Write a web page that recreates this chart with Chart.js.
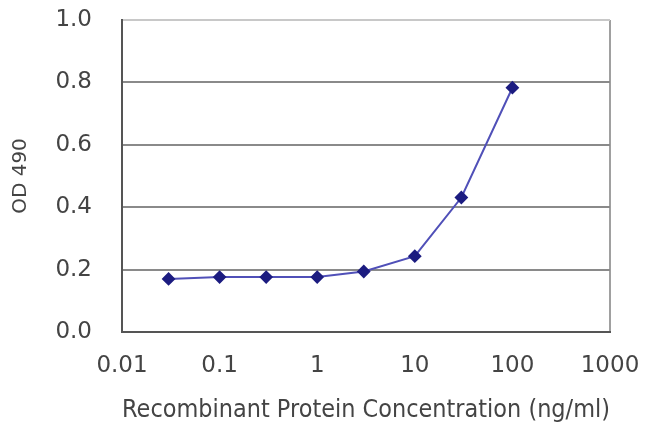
<!DOCTYPE html>
<html>
<head>
<meta charset="utf-8">
<script src="https://cdn.jsdelivr.net/npm/chart.js@4"></script>
<style>
  body { margin: 0; background: #fff; }
  #chart { display: block; }
</style>
</head>
<body>
<canvas id="chart" width="650" height="433"></canvas>
<script>
// concentrations (ng/ml) and OD 490 readings
const concentrations = [0.03, 0.1, 0.3, 1, 3, 10, 30, 100];
const odValues = [0.17, 0.176, 0.176, 0.176, 0.194, 0.243, 0.431, 0.783];
const xTicks = [0.01, 0.1, 1, 10, 100, 1000];
const yTicks = [0, 0.2, 0.4, 0.6, 0.8, 1.0];

const points = concentrations.map((c, i) => ({ x: c, y: odValues[i] }));

const textColor = '#444';
const font = { family: 'DejaVu Sans', size: 23 };

new Chart(document.getElementById('chart'), {
    type: 'line',
    data: {
        datasets: [{
            data: points,
            borderColor: '#5050b8',
            borderWidth: 2,
            pointStyle: 'rectRot',
            pointRadius: 5.5,
            pointBackgroundColor: '#1c1c80',
            pointBorderColor: '#1c1c80',
            tension: 0
        }]
    },
    options: {
        responsive: false,
        animation: false,
        layout: { padding: { top: 20, right: 40, left: 0, bottom: 0 } },
        plugins: {
            legend: { display: false },
            tooltip: { enabled: false }
        },
        scales: {
            x: {
                type: 'logarithmic',
                min: 0.01,
                max: 1000,
                afterBuildTicks: scale => {
                    scale.ticks = xTicks.map(v => ({ value: v }));
                },
                afterFit: scale => { scale.height = 101; },
                ticks: {
                    color: textColor,
                    font: font,
                    padding: 0,
                    maxRotation: 0,
                    autoSkip: false,
                    callback: v => String(v)
                },
                grid: {
                    tickLength: 20,
                    tickColor: 'transparent',
                    lineWidth: 2,
                    color: ctx => (ctx.tick && ctx.tick.value === 1000) ? '#a0a0a0' : 'transparent'
                },
                border: { color: '#555', width: 2 },
                title: {
                    display: true,
                    text: 'Recombinant Protein Concentration (ng/ml)',
                    color: textColor,
                    font: { family: 'DejaVu Sans', size: 24 },
                    padding: { top: 8, bottom: 8 }
                }
            },
            y: {
                min: 0,
                max: 1.0,
                afterBuildTicks: scale => {
                    scale.ticks = yTicks.map(v => ({ value: v }));
                },
                afterFit: scale => { scale.width = 122; },
                ticks: {
                    color: textColor,
                    font: font,
                    padding: 0,
                    callback: v => v.toFixed(1)
                },
                grid: {
                    tickLength: 30,
                    tickColor: 'transparent',
                    lineWidth: 2,
                    color: ctx => {
                        const v = ctx.tick ? ctx.tick.value : 0;
                        if (v >= 0.99) return '#c8c8c8';
                        return '#8a8a8a';
                    }
                },
                border: { color: '#555', width: 2 },
                title: {
                    display: true,
                    text: 'OD 490',
                    color: textColor,
                    font: { family: 'DejaVu Sans', size: 20 },
                    padding: { top: 9, bottom: 9 }
                }
            }
        }
    }
});
</script>
</body>
</html>
